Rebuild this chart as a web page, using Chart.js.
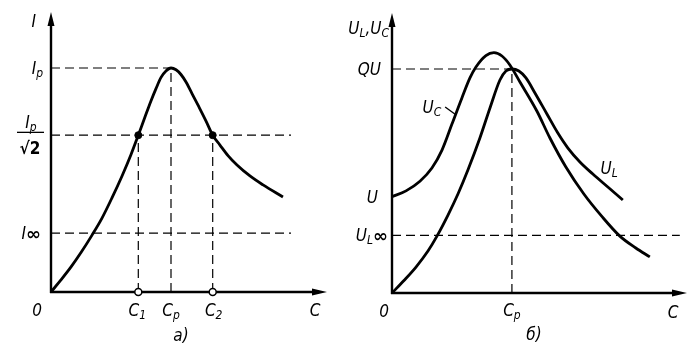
<!DOCTYPE html>
<html>
<head>
<meta charset="utf-8">
<script src="https://cdn.jsdelivr.net/npm/chart.js@4.4.1/dist/chart.umd.min.js"></script>
<style>
  body { margin: 0; background: #fff; }
  canvas { position: absolute; top: 0; }
</style>
</head>
<body>
<canvas id="panelA" width="349" height="356" style="left:0"></canvas>
<canvas id="panelB" width="349" height="356" style="left:349px"></canvas>
<script>
// panel a): current I versus capacitance C (units: C/Cp, I/Ip)
const currC = [0, 0.083, 0.167, 0.25, 0.342, 0.425, 0.508, 0.592, 0.667, 0.7275, 0.783, 0.833, 0.875, 0.917, 0.958, 1,
               1.042, 1.083, 1.125, 1.175, 1.233, 1.292, 1.3475, 1.408, 1.475, 1.55, 1.658, 1.767, 1.933];
const currI = [0, 0.054, 0.112, 0.176, 0.254, 0.33, 0.42, 0.518, 0.614, 0.70, 0.781, 0.853, 0.908, 0.958, 0.987, 1,
               0.992, 0.971, 0.9375, 0.886, 0.826, 0.763, 0.70, 0.656, 0.609, 0.567, 0.518, 0.478, 0.424];
const cp = 1, c1 = 0.7275, c2 = 1.3475;
const ip = 1, ipHalf = 0.70, iInf = 0.263;

// panel б): U_L and U_C versus C (units: C/Cp, U/QU)
const ulC = [0, 0.1, 0.2, 0.3, 0.375, 0.467, 0.55, 0.633, 0.733, 0.817, 0.9, 0.95, 1,
             1.058, 1.117, 1.192, 1.292, 1.383, 1.467, 1.567, 1.675, 1.8, 1.925];
const ulV = [0, 0.056, 0.116, 0.1875, 0.254, 0.348, 0.442, 0.549, 0.692, 0.826, 0.951, 0.991, 1,
             0.991, 0.96, 0.893, 0.799, 0.714, 0.647, 0.585, 0.531, 0.473, 0.415];
const ucC = [0, 0.117, 0.233, 0.333, 0.417, 0.5, 0.583, 0.65, 0.7, 0.783, 0.85, 0.917, 0.983,
             1.067, 1.208, 1.317, 1.45, 1.6, 1.75, 1.9, 2.033, 2.15];
const ucV = [0.43, 0.456, 0.499, 0.558, 0.638, 0.754, 0.871, 0.96, 1.009, 1.06, 1.073, 1.058, 1.018,
             0.942, 0.8125, 0.692, 0.5625, 0.442, 0.342, 0.254, 0.201, 0.161];
const qu = 1, uIn = 0.43, ulInf = 0.257;

const FONT = '"DejaVu Sans Condensed", "DejaVu Sans", sans-serif';
const F = 'italic 17px ' + FONT;
const S = 'italic 12px ' + FONT;
const INF = 'bold 18px "DejaVu Sans", sans-serif';

const pts = (xs, ys) => xs.map((v, i) => ({x: v, y: ys[i]}));

function curve(data) {
  return {data, showLine: true, borderColor: '#000', borderWidth: 2.8, pointRadius: 0,
          cubicInterpolationMode: 'monotone', clip: false, order: 1};
}
function dashed(data) {
  return {data, showLine: true, borderColor: '#000', borderWidth: 1.2, borderDash: [9, 5],
          pointRadius: 0, clip: false, order: 2};
}

// draw a label made of pieces [text, font, dy]
function label(ctx, x, y, align, parts) {
  let w = 0;
  const ws = parts.map(p => { ctx.font = p[1]; const m = ctx.measureText(p[0]).width; w += m; return m; });
  let sx = align === 'right' ? x - w : align === 'center' ? x - w / 2 : x;
  ctx.textBaseline = 'alphabetic';
  ctx.textAlign = 'left';
  parts.forEach((p, i) => {
    ctx.font = p[1];
    ctx.fillText(p[0], sx, y + (p[2] || 0));
    sx += ws[i];
  });
}

function drawAxes(chart) {
  const {ctx, chartArea, scales: {x, y}} = chart;
  const ox = x.getPixelForValue(0), oy = y.getPixelForValue(0);
  ctx.save();
  ctx.strokeStyle = '#000';
  ctx.fillStyle = '#000';
  ctx.lineWidth = 2.4;
  ctx.beginPath();
  ctx.moveTo(ox, oy + 1);
  ctx.lineTo(ox, chartArea.top + 8);
  ctx.moveTo(ox - 1, oy);
  ctx.lineTo(chartArea.right - 8, oy);
  ctx.stroke();
  ctx.beginPath();
  ctx.moveTo(ox, chartArea.top);
  ctx.lineTo(ox - 3.5, chartArea.top + 14);
  ctx.lineTo(ox + 3.5, chartArea.top + 14);
  ctx.closePath();
  ctx.moveTo(chartArea.right, oy);
  ctx.lineTo(chartArea.right - 15, oy - 3.5);
  ctx.lineTo(chartArea.right - 15, oy + 3.5);
  ctx.closePath();
  ctx.fill();
  ctx.restore();
}

const axesPlugin = {id: 'axes', beforeDatasetsDraw: drawAxes};

const labelsA = {
  id: 'labelsA',
  afterDraw(chart) {
    const {ctx, chartArea, scales: {x, y}} = chart;
    const ox = x.getPixelForValue(0), oy = y.getPixelForValue(0);
    ctx.save();
    ctx.fillStyle = '#000';
    label(ctx, ox - 15, chartArea.top + 15, 'right', [['I', F]]);
    label(ctx, ox - 8, y.getPixelForValue(ip) + 6, 'right', [['I', F], ['p', S, 3]]);
    // fraction Ip / sqrt2
    const fy = y.getPixelForValue(ipHalf);
    label(ctx, ox - 20, fy - 7, 'center', [['I', F], ['p', S, 3]]);
    ctx.fillRect(ox - 34, fy - 3.5, 27, 1.3);
    label(ctx, ox - 21, fy + 19, 'center', [['\u221A2', 'bold 17px ' + FONT]]);
    label(ctx, ox - 10, y.getPixelForValue(iInf) + 6, 'right', [['I', F], ['\u221E', INF, 1]]);
    label(ctx, ox - 14, oy + 24, 'center', [['0', F]]);
    label(ctx, x.getPixelForValue(c1) - 1, oy + 24, 'center', [['C', F], ['1', S, 3]]);
    label(ctx, x.getPixelForValue(cp), oy + 24, 'center', [['C', F], ['p', S, 3]]);
    label(ctx, x.getPixelForValue(c2) + 1, oy + 24, 'center', [['C', F], ['2', S, 3]]);
    label(ctx, chartArea.right - 12, oy + 24, 'center', [['C', F]]);
    label(ctx, x.getPixelForValue(cp) + 10, oy + 49, 'center', [['a)', F]]);
    ctx.restore();
  }
};

const labelsB = {
  id: 'labelsB',
  afterDraw(chart) {
    const {ctx, chartArea, scales: {x, y}} = chart;
    const ox = x.getPixelForValue(0), oy = y.getPixelForValue(0);
    ctx.save();
    ctx.fillStyle = '#000';
    label(ctx, ox - 3, chartArea.top + 21, 'right', [['U', F], ['L', S, 3], [',U', F], ['C', S, 3]]);
    label(ctx, ox - 11, y.getPixelForValue(qu) + 6, 'right', [['QU', F]]);
    label(ctx, ox - 14, y.getPixelForValue(uIn) + 6, 'right', [['U', F]]);
    label(ctx, ox - 4, y.getPixelForValue(ulInf) + 6, 'right', [['U', F], ['L', S, 3], ['\u221E', INF, 1]]);
    label(ctx, ox - 8, oy + 24, 'center', [['0', F]]);
    label(ctx, x.getPixelForValue(cp), oy + 23, 'center', [['C', F], ['p', S, 3]]);
    label(ctx, chartArea.right - 14, oy + 25, 'center', [['C', F]]);
    label(ctx, x.getPixelForValue(cp) + 22, oy + 47, 'center', [['\u0431)', F]]);
    // curve labels
    label(ctx, x.getPixelForValue(0.333), y.getPixelForValue(0.83) + 6, 'center', [['U', F], ['C', S, 3]]);
    const lx = x.getPixelForValue(0.535), ly = y.getPixelForValue(0.795);
    ctx.strokeStyle = '#000';
    ctx.lineWidth = 1.3;
    ctx.beginPath();
    ctx.moveTo(lx - 11, ly - 8);
    ctx.lineTo(lx, ly);
    ctx.stroke();
    label(ctx, x.getPixelForValue(1.81), y.getPixelForValue(0.56) + 6, 'center', [['U', F], ['L', S, 3]]);
    ctx.restore();
  }
};

function baseOptions(pad, xMax) {
  return {
    responsive: false,
    animation: false,
    events: [],
    layout: {padding: pad},
    plugins: {legend: {display: false}, tooltip: {enabled: false}},
    scales: {
      x: {type: 'linear', min: 0, max: xMax, display: false},
      y: {type: 'linear', min: 0, max: 1.25, display: false}
    }
  };
}

new Chart(document.getElementById('panelA'), {
  type: 'scatter',
  data: {
    datasets: [
      curve(pts(currC, currI)),
      dashed([{x: 0, y: ip}, {x: cp, y: ip}]),
      dashed([{x: 0, y: ipHalf}, {x: 2.0, y: ipHalf}]),
      dashed([{x: 0, y: iInf}, {x: 2.0, y: iInf}]),
      dashed([{x: cp, y: 0}, {x: cp, y: ip}]),
      dashed([{x: c1, y: 0}, {x: c1, y: ipHalf}]),
      dashed([{x: c2, y: 0}, {x: c2, y: ipHalf}]),
      {data: [{x: c1, y: ipHalf}, {x: c2, y: ipHalf}], pointRadius: 3.5, backgroundColor: '#000',
       borderColor: '#000', clip: false, order: 0},
      {data: [{x: c1, y: 0}, {x: c2, y: 0}], pointRadius: 3.5, backgroundColor: '#fff',
       borderColor: '#000', borderWidth: 1.5, clip: false, order: 0}
    ]
  },
  options: baseOptions({left: 51, right: 22, top: 12, bottom: 64}, 2.3),
  plugins: [axesPlugin, labelsA]
});

new Chart(document.getElementById('panelB'), {
  type: 'scatter',
  data: {
    datasets: [
      curve(pts(ulC, ulV)),
      curve(pts(ucC, ucV)),
      dashed([{x: 0, y: qu}, {x: cp, y: qu}]),
      dashed([{x: cp, y: 0}, {x: cp, y: qu}]),
      dashed([{x: 0, y: ulInf}, {x: 2.4, y: ulInf}])
    ]
  },
  options: baseOptions({left: 43, right: 11, top: 13, bottom: 63}, 2.46),
  plugins: [axesPlugin, labelsB]
});
</script>
</body>
</html>
